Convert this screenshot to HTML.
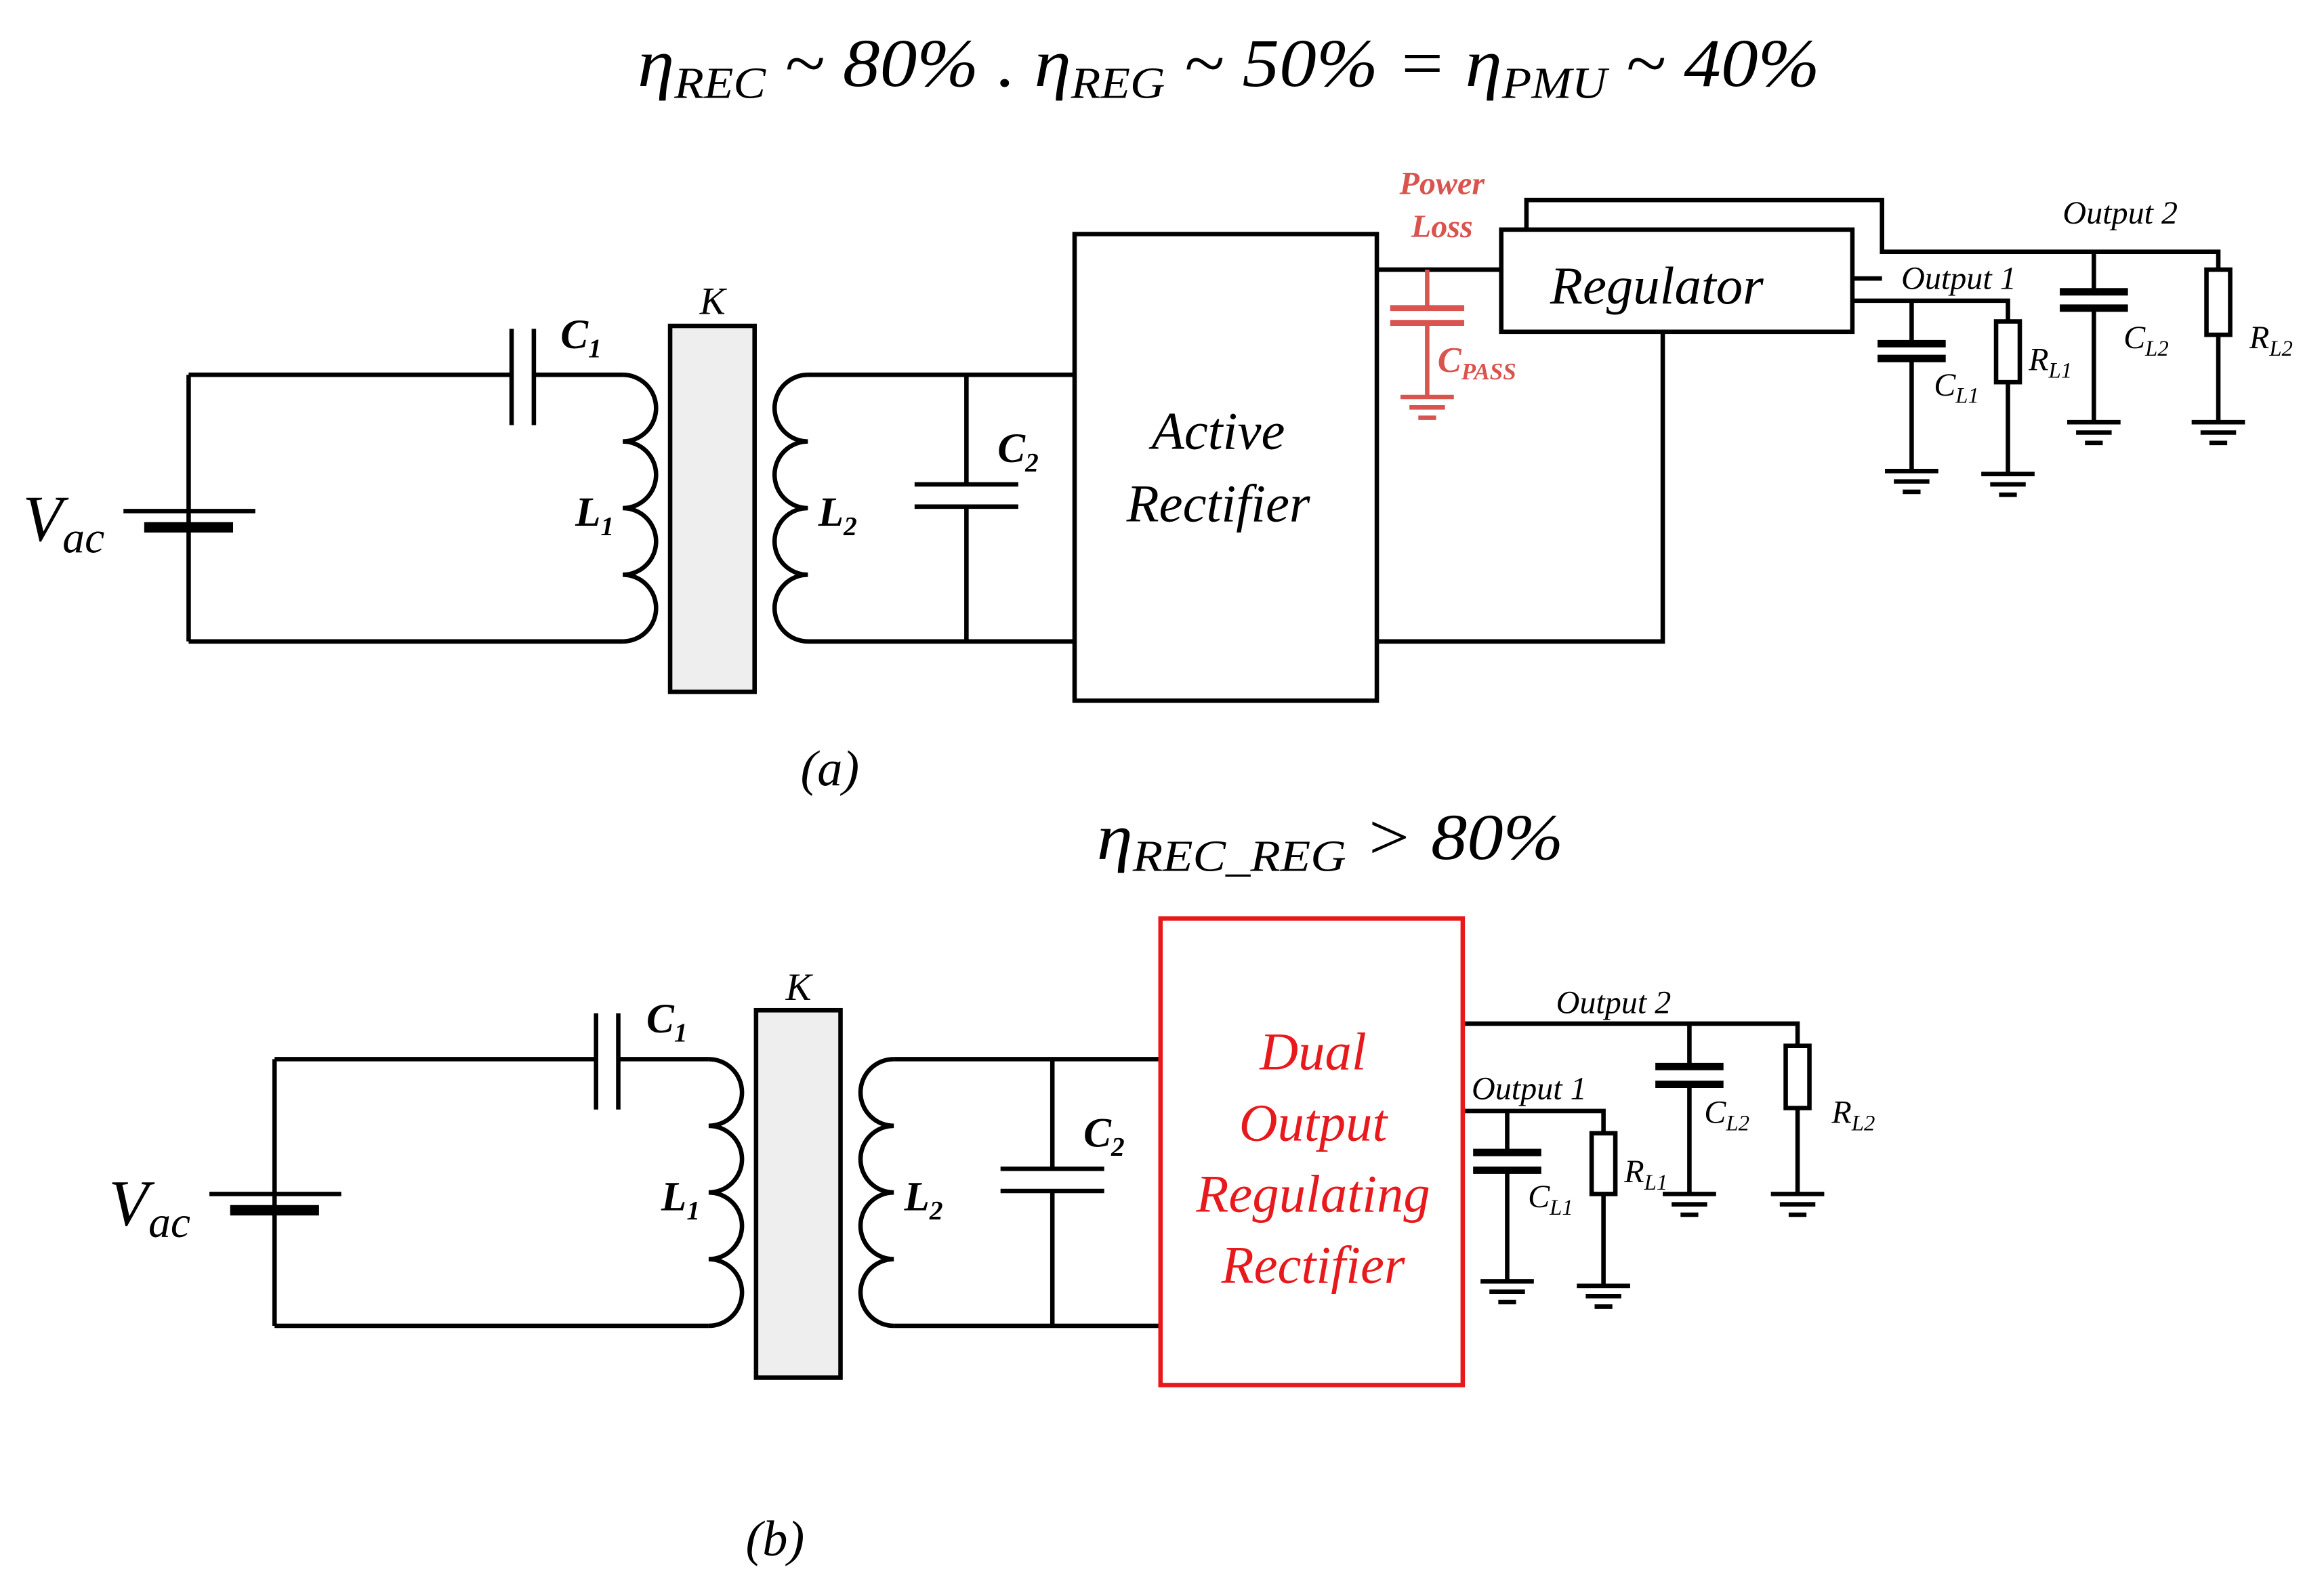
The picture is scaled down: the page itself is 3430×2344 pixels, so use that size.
<!DOCTYPE html>
<html><head><meta charset="utf-8"><style>
html,body{margin:0;padding:0;background:#fff}
svg{display:block}
text{font-family:"Liberation Serif",serif;font-style:italic}
</style></head><body>
<svg width="3430" height="2344" viewBox="0 0 1568 1072" xmlns="http://www.w3.org/2000/svg">
<defs>
<g id="gnd" stroke="#000" stroke-width="3"><line x1="-18" y1="0" x2="18" y2="0"/><line x1="-12" y1="7" x2="12" y2="7"/><line x1="-6" y1="14" x2="6" y2="14"/></g>
<g id="gndr" stroke="#d9534f" stroke-width="3"><line x1="-18" y1="0" x2="18" y2="0"/><line x1="-12" y1="7" x2="12" y2="7"/><line x1="-6" y1="14" x2="6" y2="14"/></g>
</defs>
<g fill="none" stroke="#000" stroke-width="3">
<path d="M127 253 V433 M127 253 H345 M360 253 H420 M127 433 H420"/>
<path d="M420 253 A22.5 22.5 0 0 1 420 298 A22.5 22.5 0 0 1 420 343 A22.5 22.5 0 0 1 420 388 A22.5 22.5 0 0 1 420 433"/>
<line x1="345" y1="222" x2="345" y2="287"/><line x1="360" y1="222" x2="360" y2="287"/>
<line x1="83" y1="345" x2="172" y2="345" stroke-width="3"/><line x1="97" y1="356" x2="157" y2="356" stroke-width="7"/>
<rect x="452" y="220" width="57" height="247" fill="#eeeeee"/>
<path d="M545 253 A22.5 22.5 0 0 0 545 298 A22.5 22.5 0 0 0 545 343 A22.5 22.5 0 0 0 545 388 A22.5 22.5 0 0 0 545 433"/>
<path d="M545 253 H725 M545 433 H725 M652 253 V327 M652 342 V433"/>
<line x1="617" y1="327" x2="687" y2="327"/><line x1="617" y1="342" x2="687" y2="342"/>
<rect x="725" y="158" width="204" height="315"/>
<path d="M929 182 H1013 M929 433 H1122 V224"/>
<path d="M1030 155 V135 H1270 V170 H1497 V182 M1250 188 H1270 M1250 203 H1355 V217"/>
<rect x="1013" y="155" width="237" height="69" fill="#fff"/>
<path d="M1290 203 V232 M1290 242 V318"/>
<line x1="1267" y1="232" x2="1313" y2="232" stroke-width="5"/><line x1="1267" y1="242" x2="1313" y2="242" stroke-width="5"/>
<rect x="1347" y="217" width="16" height="41"/><path d="M1355 258 V320"/>
<path d="M1413 170 V197 M1413 208 V285"/>
<line x1="1390" y1="197" x2="1436" y2="197" stroke-width="5"/><line x1="1390" y1="208" x2="1436" y2="208" stroke-width="5"/>
<rect x="1489" y="182" width="16" height="44"/><path d="M1497 226 V285"/>
<path d="M185 715 V895 M185 715 H402 M417 715 H478 M185 895 H478"/>
<path d="M478 715 A22.5 22.5 0 0 1 478 760 A22.5 22.5 0 0 1 478 805 A22.5 22.5 0 0 1 478 850 A22.5 22.5 0 0 1 478 895"/>
<line x1="402" y1="684" x2="402" y2="749"/><line x1="417" y1="684" x2="417" y2="749"/>
<line x1="141" y1="806" x2="230" y2="806"/><line x1="155" y1="817" x2="215" y2="817" stroke-width="7"/>
<rect x="510" y="682" width="57" height="248" fill="#eeeeee"/>
<path d="M603 715 A22.5 22.5 0 0 0 603 760 A22.5 22.5 0 0 0 603 805 A22.5 22.5 0 0 0 603 850 A22.5 22.5 0 0 0 603 895"/>
<path d="M603 715 H783 M603 895 H783 M710 715 V789 M710 804 V895"/>
<line x1="675" y1="789" x2="745" y2="789"/><line x1="675" y1="804" x2="745" y2="804"/>
<path d="M987 691 H1213 V706 M987 750 H1082 V765"/>
<path d="M1017 750 V778 M1017 790 V865"/>
<line x1="994" y1="778" x2="1040" y2="778" stroke-width="5"/><line x1="994" y1="790" x2="1040" y2="790" stroke-width="5"/>
<rect x="1074" y="765" width="16" height="41"/><path d="M1082 806 V868"/>
<path d="M1140 691 V720 M1140 732 V806"/>
<line x1="1117" y1="720" x2="1163" y2="720" stroke-width="5"/><line x1="1117" y1="732" x2="1163" y2="732" stroke-width="5"/>
<rect x="1205" y="706" width="16" height="42"/><path d="M1213 748 V806"/>
</g>
<rect x="783" y="620" width="204" height="315" fill="none" stroke="#e8191c" stroke-width="3"/>
<g stroke="#d9534f" fill="none" stroke-width="3">
<path d="M963 182 V208 M963 218 V268"/>
<line x1="938" y1="208" x2="988" y2="208" stroke-width="4"/><line x1="938" y1="218" x2="988" y2="218" stroke-width="4"/>
</g>
<use href="#gndr" x="963" y="268"/>
<use href="#gnd" x="1290" y="318"/><use href="#gnd" x="1355" y="320"/><use href="#gnd" x="1413" y="285"/><use href="#gnd" x="1497" y="285"/>
<use href="#gnd" x="1017" y="865"/><use href="#gnd" x="1082" y="868"/><use href="#gnd" x="1140" y="806"/><use href="#gnd" x="1213" y="806"/>
<text x="430" y="58" font-size="46" textLength="798" lengthAdjust="spacingAndGlyphs">η<tspan font-size="30" dy="8">REC</tspan><tspan dy="-8"> ~ 80% . η</tspan><tspan font-size="30" dy="8">REG</tspan><tspan dy="-8"> ~ 50% = η</tspan><tspan font-size="30" dy="8">PMU</tspan><tspan dy="-8"> ~ 40%</tspan></text>
<text x="15" y="365" font-size="44">V<tspan font-size="30" dy="8">ac</tspan></text>
<text x="378" y="235" font-size="28" font-weight="bold">C<tspan font-size="18" dy="6">1</tspan></text>
<text x="472" y="212" font-size="26">K</text>
<text x="388" y="355" font-size="28" font-weight="bold">L<tspan font-size="18" dy="6">1</tspan></text>
<text x="552" y="355" font-size="28" font-weight="bold">L<tspan font-size="18" dy="6">2</tspan></text>
<text x="673" y="312" font-size="28" font-weight="bold">C<tspan font-size="18" dy="6">2</tspan></text>
<text x="822" y="303" font-size="36" text-anchor="middle">Active</text>
<text x="822" y="352" font-size="36" text-anchor="middle">Rectifier</text>
<text x="973" y="131" font-size="22" font-weight="bold" fill="#d9534f" text-anchor="middle">Power</text>
<text x="973" y="160" font-size="22" font-weight="bold" fill="#d9534f" text-anchor="middle">Loss</text>
<text x="970" y="251" font-size="24" font-weight="bold" fill="#d9534f">C<tspan font-size="16" dy="5">PASS</tspan></text>
<text x="1118" y="205" font-size="36" text-anchor="middle">Regulator</text>
<text x="1392" y="151" font-size="22">Output 2</text>
<text x="1283" y="195" font-size="22">Output 1</text>
<text x="1305" y="267" font-size="22">C<tspan font-size="15" dy="5">L1</tspan></text>
<text x="1369" y="250" font-size="22">R<tspan font-size="15" dy="5">L1</tspan></text>
<text x="1433" y="235" font-size="22">C<tspan font-size="15" dy="5">L2</tspan></text>
<text x="1518" y="235" font-size="22">R<tspan font-size="15" dy="5">L2</tspan></text>
<text x="540" y="530" font-size="34">(a)</text>
<text x="740" y="580" font-size="44" textLength="315" lengthAdjust="spacingAndGlyphs">η<tspan font-size="30" dy="8">REC_REG</tspan><tspan dy="-8"> &gt; 80%</tspan></text>
<text x="73" y="827" font-size="44">V<tspan font-size="30" dy="8">ac</tspan></text>
<text x="436" y="697" font-size="28" font-weight="bold">C<tspan font-size="18" dy="6">1</tspan></text>
<text x="530" y="675" font-size="26">K</text>
<text x="446" y="817" font-size="28" font-weight="bold">L<tspan font-size="18" dy="6">1</tspan></text>
<text x="610" y="817" font-size="28" font-weight="bold">L<tspan font-size="18" dy="6">2</tspan></text>
<text x="731" y="774" font-size="28" font-weight="bold">C<tspan font-size="18" dy="6">2</tspan></text>
<g fill="#e8191c" font-size="36" text-anchor="middle">
<text x="886" y="722">Dual</text><text x="886" y="770">Output</text><text x="886" y="818">Regulating</text><text x="886" y="866">Rectifier</text>
</g>
<text x="1050" y="684" font-size="22">Output 2</text>
<text x="993" y="742" font-size="22">Output 1</text>
<text x="1031" y="815" font-size="22">C<tspan font-size="15" dy="5">L1</tspan></text>
<text x="1096" y="798" font-size="22">R<tspan font-size="15" dy="5">L1</tspan></text>
<text x="1150" y="758" font-size="22">C<tspan font-size="15" dy="5">L2</tspan></text>
<text x="1236" y="758" font-size="22">R<tspan font-size="15" dy="5">L2</tspan></text>
<text x="503" y="1050" font-size="34">(b)</text>
</svg>
</body></html>
